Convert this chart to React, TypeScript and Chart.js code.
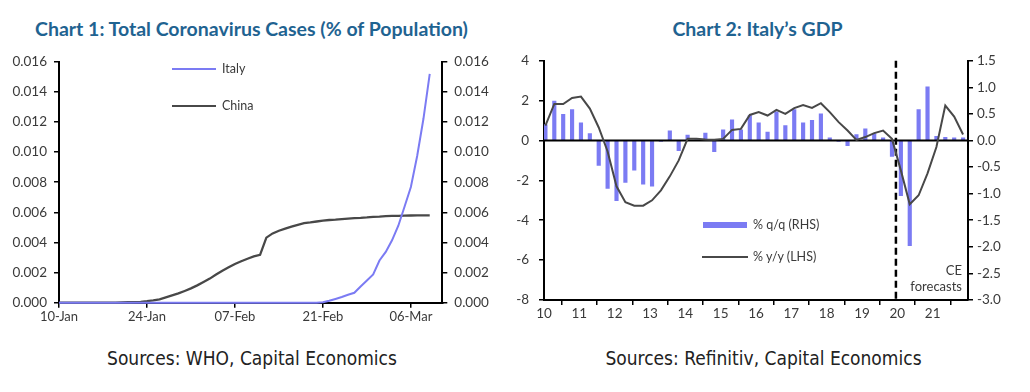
import React, { useEffect, useRef } from 'react';
import { Chart, registerables } from 'chart.js';

Chart.register(...registerables);

// ---------- Chart 1 data ----------
const dateTickDays = [0, 14, 28, 42, 56];
const dateTickLabels = ['10-Jan', '24-Jan', '07-Feb', '21-Feb', '06-Mar'];
const casesAxisTicks = [0, 0.002, 0.004, 0.006, 0.008, 0.01, 0.012, 0.014, 0.016];

// daily values from 10-Jan, % of population
const italyCases = [
  0, 0, 0, 0, 0, 0, 0, 0, 0, 0,
  0, 0, 0, 0, 0, 0, 0, 0, 0, 0,
  0, 0, 0, 0, 0, 0, 0, 0, 0, 0,
  0, 0, 0, 0, 0, 0, 0, 0, 0, 0,
  0, 0, 0.00003, 0.00013, 0.00025, 0.00038, 0.00053, 0.00066, 0.00108, 0.00147,
  0.00187, 0.0028, 0.00337, 0.00414, 0.00511, 0.00639, 0.00768, 0.00974, 0.01221, 0.01519,
];

const chinaCases = [
  0.000003, 0.000003, 0.000003, 0.000003, 0.000003, 0.000003, 0.000003, 0.000003, 0.000003, 0.000004,
  0.00002, 0.00003, 0.00004, 0.00006, 0.0001, 0.00015, 0.00022, 0.00035, 0.00048, 0.00062,
  0.00078, 0.00095, 0.00115, 0.00137, 0.0016, 0.00187, 0.00212, 0.00235, 0.00257, 0.00275,
  0.00292, 0.00307, 0.00318, 0.00432, 0.0046, 0.00478, 0.00492, 0.00505, 0.00517, 0.00528,
  0.00533, 0.00539, 0.00545, 0.00549, 0.00551, 0.00555, 0.00558, 0.00561, 0.00563, 0.00566,
  0.0057, 0.00572, 0.00575, 0.00576, 0.00577, 0.00578, 0.00579, 0.0058, 0.0058, 0.0058,
];

// ---------- Chart 2 data ----------
const yearTicks = [2010, 2011, 2012, 2013, 2014, 2015, 2016, 2017, 2018, 2019, 2020, 2021, 2022];
const yearLabels = ['10', '11', '12', '13', '14', '15', '16', '17', '18', '19', '20', '21', ''];
const firstQuarterPos = 2010.04;
const quarterStep = 0.2515;
const forecastStart = 2019.96;

// 2010Q1 .. 2021Q4
const gdpQoQ = [
  0.3, 0.74, 0.49, 0.58,
  0.33, 0.13, -0.47, -0.9,
  -1.13, -0.79, -0.56, -0.82,
  -0.86, -0.02, 0.18, -0.19,
  0.1, 0.01, 0.14, -0.21,
  0.2, 0.39, 0.2, 0.47,
  0.33, 0.16, 0.54, 0.28,
  0.58, 0.33, 0.38, 0.5,
  0.05, -0.02, -0.1, 0.11,
  0.22, 0.13, 0.05, -0.3,
  -1.04, -1.98, 0.58, 1.01,
  0.08, 0.06, 0.05, 0.05,
];

const gdpYoY = [
  0.75, 1.83, 1.83, 2.13,
  2.2, 1.6, 0.65, -0.55,
  -2.3, -3.1, -3.27, -3.27,
  -3.0, -2.5, -1.8, -1.0,
  0.08, 0.08, 0.05, 0.03,
  0.08, 0.53, 0.58, 1.28,
  1.42, 1.25, 1.53, 1.33,
  1.62, 1.78, 1.63, 1.87,
  1.42, 0.92, 0.5, 0.03,
  0.17, 0.37, 0.5, 0.08,
  -1.5, -3.2, -2.75, -1.65,
  -0.33, 1.75, 1.2, 0.3,
];

const BLUE = '#7b7bf3';
const DARK = '#484848';
const TEXT = '#3a3a3a';
const FONT = "Lato, 'Open Sans', sans-serif";

Chart.defaults.font.family = FONT;
Chart.defaults.color = TEXT;

const axisBase = (padding: number, size: number) => ({
  border: { display: true, color: '#000', width: 2 },
  grid: { display: true, drawOnChartArea: false, drawTicks: true, tickLength: 5, color: '#000', lineWidth: 1.5 },
  ticks: { color: TEXT, font: { size, family: FONT }, padding, autoSkip: false, maxRotation: 0 },
});

function chart1Config(): any {
  const yAxis = (position: 'left' | 'right', width: number) => {
    const b = axisBase(7, 13.5);
    return {
      ...b,
      type: 'linear',
      position,
      min: 0,
      max: 0.016,
      afterBuildTicks: (s: any) => { s.ticks = casesAxisTicks.map((v) => ({ value: v })); },
      afterFit: (s: any) => { s.width = width; },
      ticks: { ...b.ticks, callback: (v: number) => Number(v).toFixed(3) },
    };
  };
  const xb = axisBase(1, 13);
  return {
    type: 'line',
    data: {
      datasets: [
        {
          label: 'Italy',
          data: italyCases.map((v, i) => ({ x: i, y: v })),
          borderColor: BLUE,
          borderWidth: 2,
          pointRadius: 0,
          tension: 0,
          clip: 4,
        },
        {
          label: 'China',
          data: chinaCases.map((v, i) => ({ x: i, y: v })),
          borderColor: DARK,
          borderWidth: 2.3,
          pointRadius: 0,
          tension: 0,
          clip: 4,
        },
      ],
    },
    options: {
      responsive: false,
      animation: false,
      layout: { padding: { top: 21.7, left: 0, right: 0, bottom: 0 } },
      plugins: { legend: { display: false }, tooltip: { enabled: false } },
      scales: {
        x: {
          ...xb,
          type: 'linear',
          min: 0,
          max: 61,
          afterBuildTicks: (s: any) => { s.ticks = dateTickDays.map((v) => ({ value: v })); },
          afterFit: (s: any) => { s.height = 27.3; },
          ticks: { ...xb.ticks, callback: (v: number) => dateTickLabels[dateTickDays.indexOf(v)] ?? '' },
        },
        y: yAxis('left', 59),
        y2: yAxis('right', 57.7),
      },
    },
  };
}

const refLinesPlugin = {
  id: 'refLines',
  afterDatasetDraw(chart: any, args: any) {
    if (args.index !== 0) return;
    const { ctx, chartArea, scales } = chart;
    const y0 = scales.yL.getPixelForValue(0);
    ctx.save();
    ctx.strokeStyle = '#000';
    ctx.lineWidth = 2;
    ctx.beginPath();
    ctx.moveTo(chartArea.left, y0);
    ctx.lineTo(chartArea.right, y0);
    ctx.stroke();
    const xf = scales.x.getPixelForValue(forecastStart);
    ctx.setLineDash([7, 4]);
    ctx.lineWidth = 2.5;
    ctx.beginPath();
    ctx.moveTo(xf, chartArea.top);
    ctx.lineTo(xf, chartArea.bottom);
    ctx.stroke();
    ctx.restore();
  },
};

function chart2Config(): any {
  const xPos = (i: number) => firstQuarterPos + i * quarterStep;
  const lb = axisBase(10, 13.5);
  const rb = axisBase(4, 13.5);
  const xb = axisBase(1, 13.5);
  return {
    type: 'bar',
    data: {
      datasets: [
        {
          type: 'bar',
          label: '% q/q (RHS)',
          data: gdpQoQ.map((v, i) => ({ x: xPos(i), y: v })),
          backgroundColor: BLUE,
          barThickness: 3.5,
          xAxisID: 'x',
          yAxisID: 'yR',
          order: 2,
        },
        {
          type: 'line',
          label: '% y/y (LHS)',
          data: gdpYoY.map((v, i) => ({ x: xPos(i), y: v })),
          borderColor: DARK,
          borderWidth: 2,
          pointRadius: 0,
          tension: 0,
          xAxisID: 'x',
          yAxisID: 'yL',
          order: 1,
        },
      ],
    },
    options: {
      responsive: false,
      animation: false,
      layout: { padding: { top: 20.7, left: 0, right: 0, bottom: 0 } },
      plugins: { legend: { display: false }, tooltip: { enabled: false } },
      scales: {
        x: {
          ...xb,
          type: 'linear',
          min: 2010,
          max: 2022,
          offset: false,
          afterBuildTicks: (s: any) => { s.ticks = yearTicks.map((v) => ({ value: v })); },
          afterFit: (s: any) => { s.height = 30; },
          ticks: { ...xb.ticks, callback: (v: number) => yearLabels[yearTicks.indexOf(v)] ?? '' },
        },
        yL: {
          ...lb,
          type: 'linear',
          position: 'left',
          min: -8,
          max: 4,
          ticks: { ...lb.ticks, stepSize: 2, callback: (v: number) => String(Math.round(v)) },
          afterFit: (s: any) => { s.width = 44; },
        },
        yR: {
          ...rb,
          type: 'linear',
          position: 'right',
          min: -3,
          max: 1.5,
          ticks: { ...rb.ticks, stepSize: 0.5, callback: (v: number) => Number(v).toFixed(1) },
          afterFit: (s: any) => { s.width = 62; },
        },
      },
    },
    plugins: [refLinesPlugin],
  };
}

function ChartCanvas(props: { make: () => any; left: number; top: number; width: number; height: number }) {
  const ref = useRef<HTMLCanvasElement | null>(null);
  useEffect(() => {
    if (!ref.current) return;
    const chart = new Chart(ref.current, props.make());
    return () => chart.destroy();
  }, []);
  return (
    <canvas
      ref={ref}
      width={props.width}
      height={props.height}
      style={{ position: 'absolute', left: props.left, top: props.top, width: props.width, height: props.height }}
    />
  );
}

const abs = (s: React.CSSProperties): React.CSSProperties => ({ position: 'absolute', ...s });

export default function App() {
  const titleStyle: React.CSSProperties = {
    fontFamily: FONT,
    fontWeight: 700,
    fontSize: 19.5,
    color: '#1f6391',
    textAlign: 'center',
    lineHeight: '22px',
    whiteSpace: 'nowrap',
  };
  const sourceStyle: React.CSSProperties = {
    fontFamily: "'DejaVu Sans Condensed', sans-serif",
    fontStretch: 'condensed',
    fontSize: 19,
    color: '#222',
    textAlign: 'center',
    lineHeight: '24px',
    whiteSpace: 'nowrap',
  };
  const legendText: React.CSSProperties = {
    fontFamily: FONT,
    fontSize: 12.5,
    color: TEXT,
    lineHeight: '14px',
    whiteSpace: 'nowrap',
  };
  return (
    <div style={{ position: 'absolute', left: 0, top: 0, width: 1030, height: 392, background: '#fff', overflow: 'hidden' }}>
      <div style={abs({ ...titleStyle, left: 0, width: 503, top: 18 })}>
        Chart 1: Total Coronavirus Cases (% of Population)
      </div>
      <div style={abs({ ...titleStyle, left: 515, width: 485, top: 18 })}>Chart 2: Italy’s GDP</div>

      <ChartCanvas make={chart1Config} left={0} top={40} width={500} height={290} />
      <ChartCanvas make={chart2Config} left={500} top={40} width={530} height={290} />

      {/* Chart 1 legend */}
      <div style={abs({ left: 172, top: 68, width: 44, height: 2, background: BLUE })} />
      <div style={abs({ ...legendText, left: 222, top: 62 })}>Italy</div>
      <div style={abs({ left: 172, top: 105, width: 44, height: 2.3, background: DARK })} />
      <div style={abs({ ...legendText, left: 222, top: 99 })}>China</div>

      {/* Chart 2 legend */}
      <div style={abs({ left: 703, top: 222, width: 44, height: 6, background: BLUE })} />
      <div style={abs({ ...legendText, left: 753, top: 218 })}>% q/q (RHS)</div>
      <div style={abs({ left: 702, top: 256, width: 46, height: 2, background: DARK })} />
      <div style={abs({ ...legendText, left: 753, top: 250 })}>% y/y (LHS)</div>

      <div style={abs({ ...legendText, fontSize: 13, lineHeight: '16px', right: 1030 - 962, top: 262, textAlign: 'right' })}>
        CE
        <br />
        forecasts
      </div>

      <div style={abs({ ...sourceStyle, left: 0, width: 504, top: 346 })}>Sources: WHO, Capital Economics</div>
      <div style={abs({ ...sourceStyle, left: 515, width: 497, top: 346 })}>Sources: Refinitiv, Capital Economics</div>
    </div>
  );
}
